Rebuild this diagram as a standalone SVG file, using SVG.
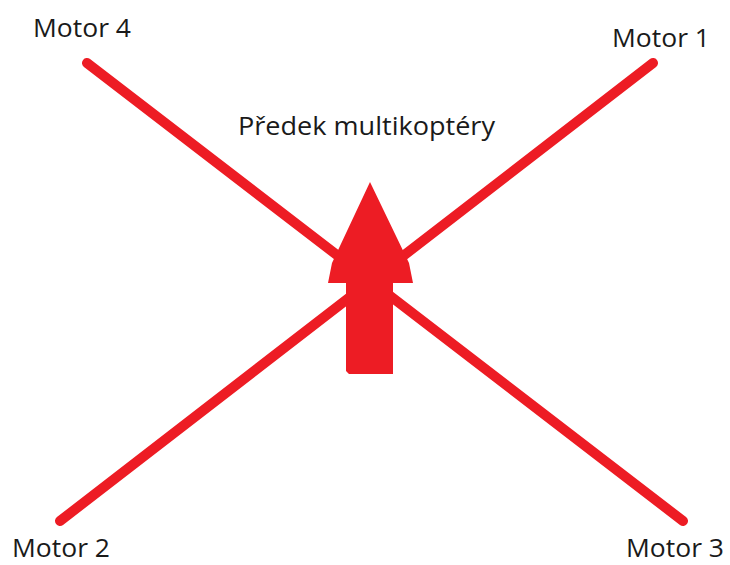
<svg xmlns="http://www.w3.org/2000/svg" width="730" height="565" viewBox="0 0 730 565">
<style>
.lbl{font-family:"Open Sans","Noto Sans",sans-serif;font-size:26px;fill:#1a1a1a}
.arm{stroke:#ed1c24;stroke-width:10;stroke-linecap:round;fill:none}
</style>
<rect width="730" height="565" fill="#fff"/>
<g id="connectors">
<line class="arm" x1="87" y1="63" x2="683" y2="521"/>
<line class="arm" x1="653" y1="63" x2="60" y2="521"/>
</g>
<g id="arrow">
<polygon fill="#ed1c24" points="370,182 332,263 328,283 346,283 346,371 349,374 393,374 393,283 413,283 409,263"/>
</g>
<g id="front"><text class="lbl" x="238" y="135" textLength="257" lengthAdjust="spacingAndGlyphs">Předek multikoptéry</text></g>
<g id="motor4"><text class="lbl" x="33" y="37" textLength="98" lengthAdjust="spacingAndGlyphs">Motor 4</text></g>
<g id="motor1"><text class="lbl" x="612" y="47" textLength="98" lengthAdjust="spacingAndGlyphs">Motor 1</text></g>
<g id="motor2"><text class="lbl" x="12" y="557" textLength="98" lengthAdjust="spacingAndGlyphs">Motor 2</text></g>
<g id="motor3"><text class="lbl" x="626" y="557" textLength="98" lengthAdjust="spacingAndGlyphs">Motor 3</text></g>
</svg>
